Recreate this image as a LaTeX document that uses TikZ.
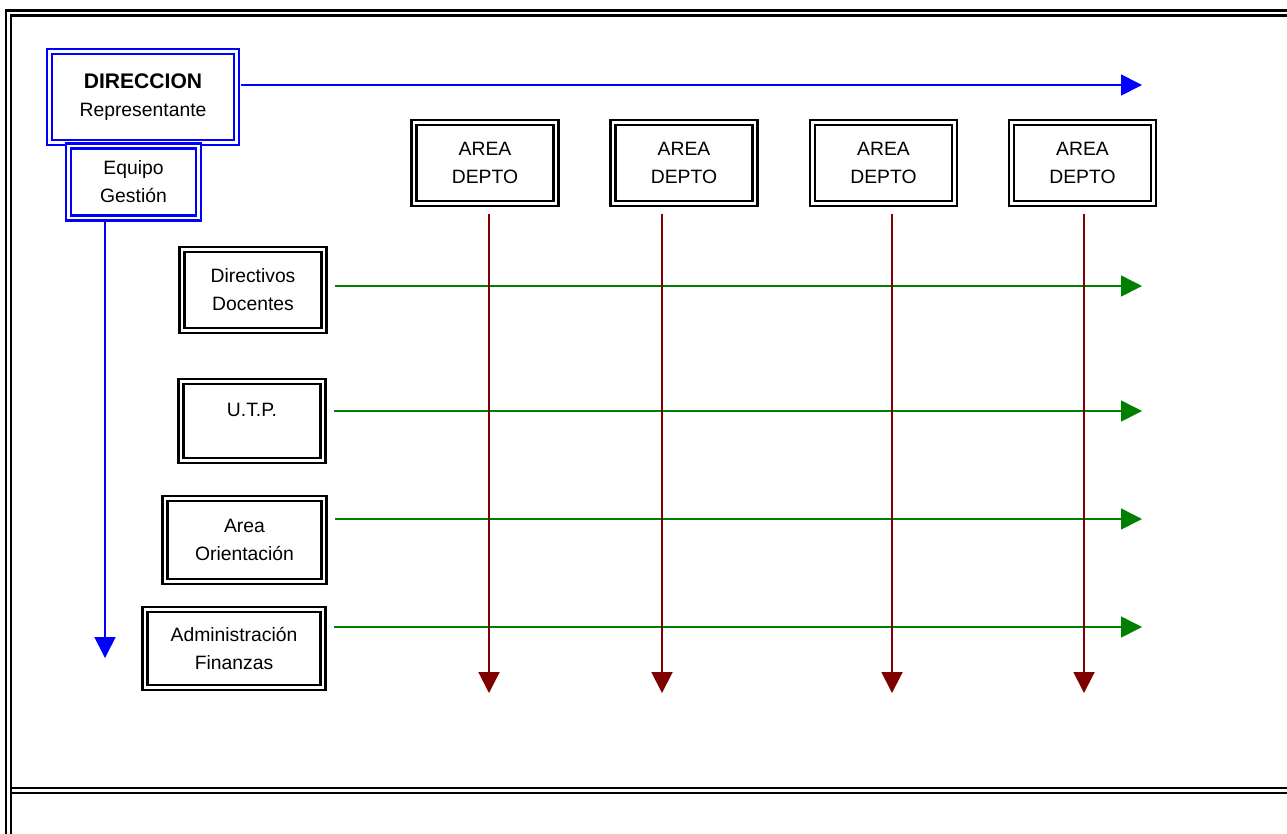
\documentclass[tikz,border=0pt]{standalone}
\usepackage{fontspec}
\setmainfont{Liberation Sans}
\usepackage{xcolor}
\usepackage{tikz}
\usetikzlibrary{arrows.meta}

\definecolor{dirblue}{RGB}{0,0,255}
\definecolor{linegreen}{RGB}{0,128,0}
\definecolor{deptred}{RGB}{128,0,0}

\begin{document}
\begin{tikzpicture}[
  x=0.02cm, y=-0.02cm,
  every node/.style={align=center, font=\fontsize{11}{16}\selectfont},
  dbox/.style={draw, double, fill=white, line width=0.05cm, double distance=0.05cm, inner sep=0pt},
  bluebox/.style={dbox, draw=dirblue, line width=0.055cm, double distance=0.045cm},
  areabox/.style={dbox, minimum width=2.84cm, minimum height=1.62cm},
  framerule/.style={draw=black, double=white, line width=0.045cm, double distance=0.055cm},
  bluearrow/.style={->, draw=dirblue, line width=0.034cm},
  greenarrow/.style={->, draw=linegreen, fill=linegreen, line width=0.03cm, shorten <=0.2cm},
  redarrow/.style={->, draw=deptred, line width=0.04cm, shorten <=0.19cm},
]
\tikzset{>={Triangle[length=0.42cm, width=0.42cm]}}

  \useasboundingbox (0,0) rectangle (1287,833);
  \clip (0,0) rectangle (1287,833);

  % Frame
  \draw[framerule] (8.5,900) -- (8.5,13) -- (1400,13);
  \draw[framerule] (12,790.5) -- (1400,790.5);

  % Nodes
  \node[bluebox, minimum width=3.74cm, minimum height=1.82cm] (dir) at (143,97)
    {{\fontsize{12}{14}\selectfont\bfseries DIRECCION}\\Representante};
  \node[bluebox, minimum width=2.6cm, minimum height=1.44cm] (eq) at (133.5,182)
    {Equipo\\Gesti\'on};

  \node[areabox] (a1) at (485,163)    {AREA\\DEPTO};
  \node[areabox] (a2) at (684,163)    {AREA\\DEPTO};
  \node[areabox] (a3) at (883.5,163)  {AREA\\DEPTO};
  \node[areabox] (a4) at (1082.5,163) {AREA\\DEPTO};

  \node[dbox, minimum width=2.84cm, minimum height=1.62cm] (dd) at (253,290)
    {Directivos\\Docentes};
  \node[dbox, minimum width=2.84cm, minimum height=1.58cm] (utp) at (252,421)
    {U.T.P.\\[-3pt]\mbox{}};
  \node[dbox, minimum width=3.18cm, minimum height=1.66cm] (ori) at (244.5,540)
    {Area\\Orientaci\'on};
  \node[dbox, minimum width=3.56cm, minimum height=1.56cm] (adm) at (234,648.5)
    {Administraci\'on\\Finanzas};

  % Arrow ends
  \coordinate (dirTip) at (1142,85);
  \coordinate (eqTip)  at (105,658);
  \coordinate (ddTip)  at (1142,286);
  \coordinate (utpTip) at (1142,411);
  \coordinate (oriTip) at (1142,519);
  \coordinate (admTip) at (1142,627);
  \coordinate (r1) at (489,693);
  \coordinate (r2) at (662,693);
  \coordinate (r3) at (892,693);
  \coordinate (r4) at (1084,693);

  % Edges
  \draw[bluearrow, shorten <=0.07cm] (dir.east |- dirTip) -- (dirTip);
  \draw[bluearrow, shorten <=0.05cm] (eq.south -| eqTip) -- (eqTip);

  \draw[greenarrow] (dd.east |- ddTip) -- (ddTip);
  \draw[greenarrow] (utp.east |- utpTip) -- (utpTip);
  \draw[greenarrow] (ori.east |- oriTip) -- (oriTip);
  \draw[greenarrow] (adm.east |- admTip) -- (admTip);

  \draw[redarrow] (a1.south -| r1) -- (r1);
  \draw[redarrow] (a2.south -| r2) -- (r2);
  \draw[redarrow] (a3.south -| r3) -- (r3);
  \draw[redarrow] (a4.south -| r4) -- (r4);

\end{tikzpicture}
\end{document}
